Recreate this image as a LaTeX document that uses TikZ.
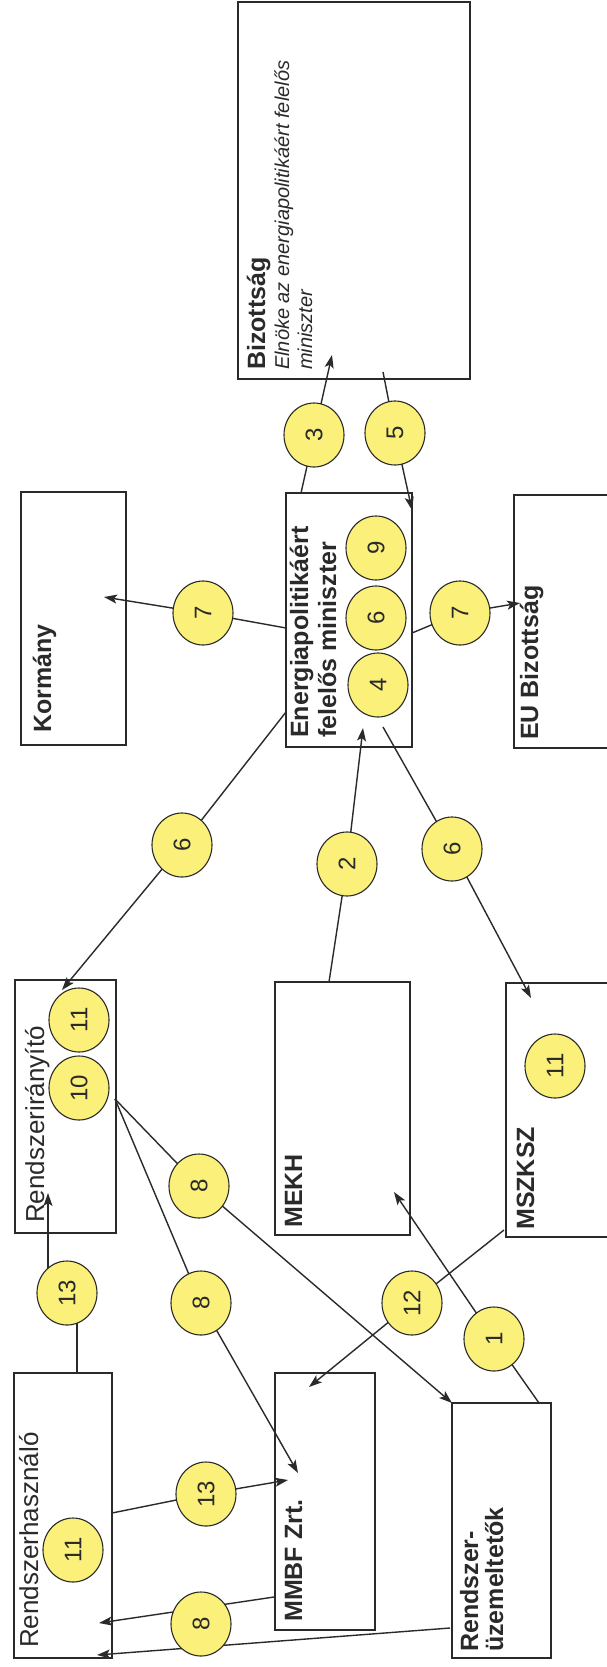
\documentclass[tikz,border=0pt]{standalone}
\usepackage{fontspec}
\setmainfont{Liberation Sans}
\usetikzlibrary{shapes.geometric,arrows.meta,backgrounds}
\definecolor{ink}{HTML}{2A2A2A}
\definecolor{dot}{RGB}{250,240,122}
\begin{document}
\begin{tikzpicture}[x=1pt,y=-1pt,
  box/.style={draw=ink, line width=1.3pt, inner sep=0pt, outer sep=0pt},
  lbl/.style={rotate=90, anchor=base west, inner sep=0pt, text=ink},
  bold/.style={font=\fontsize{25}{25}\selectfont\bfseries},
  reg/.style={font=\fontsize{26}{26}\selectfont},
  ital/.style={font=\fontsize{20}{20}\selectfont\itshape},
  num/.style={ellipse, draw=ink, line width=1.1pt, fill=dot, rotate=90,
    minimum width=64pt, minimum height=60pt, inner sep=0pt,
    font=\fontsize{24}{24}\selectfont, text=ink},
  conn/.style={draw=ink, line width=1.4pt},
  arr/.style={conn, -{Stealth[length=13pt,width=9pt,inset=3pt]}}
]
\useasboundingbox (0,0) rectangle (606,1667);

% boxes
\node[box, minimum width=232pt, minimum height=377pt] (biz) at (354,190.5) {};
\node[box, minimum width=105pt, minimum height=253pt] (korm) at (73.5,618.5) {};
\node[box, minimum width=126pt, minimum height=254pt] (ener) at (349,620) {};
\node[box, minimum width=100pt, minimum height=253pt] (eu) at (564,621.5) {};
\node[box, minimum width=101pt, minimum height=253pt] (rir) at (65.5,1106.5) {};
\node[box, minimum width=135pt, minimum height=253pt] (mekh) at (342.5,1108.5) {};
\node[box, minimum width=104pt, minimum height=254pt] (mszksz) at (558,1110) {};
\node[box, minimum width=98pt, minimum height=285pt] (rhasz) at (63,1515.5) {};
\node[box, minimum width=100pt, minimum height=257pt] (mmbf) at (325,1501.5) {};
\node[box, minimum width=99pt, minimum height=255pt] (ruz) at (501.5,1530.5) {};

% labels
\node[lbl,bold] (tbiz) at (265,370) {Bizottság};
\node[lbl,ital] (tbiz2) at (289,370) {Elnöke az energiapolitikáért felelős};
\node[lbl,ital] (tbiz3) at (312,370) {miniszter};
\node[lbl,bold] (tkorm) at (51,733) {Kormány};
\node[lbl,bold] (tener1) at (308,738) {Energiapolitikáért};
\node[lbl,bold] (tener2) at (336,738) {felelős miniszter};
\node[lbl,bold] (teu) at (538,740) {EU Bizottság};
\node[lbl,reg] (trir) at (44,1223) {Rendszerirányító};
\node[lbl,bold] (tmekh) at (302,1228) {MEKH};
\node[lbl,bold] (tmszksz) at (534,1230) {MSZKSZ};
\node[lbl,reg] (trhasz) at (38,1648) {Rendszerhasználó};
\node[lbl,bold] (tmmbf) at (302,1622) {MMBF Zrt.};
\node[lbl,bold] (truz1) at (478,1652) {Rendszer-};
\node[lbl,bold] (truz2) at (503,1652) {üzemeltetők};

% circles
\node[num] (n3) at (314,435) {3};
\node[num] (n5) at (395,433) {5};
\node[num] (n7a) at (203,613) {7};
\node[num] (n7b) at (460,613) {7};
\node[num] (n9) at (376,548) {9};
\node[num] (n6b) at (376,618) {6};
\node[num] (n4) at (378,685) {4};
\node[num] (n6a) at (182,845) {6};
\node[num] (n2) at (347,864) {2};
\node[num] (n6c) at (452,849) {6};
\node[num] (n11a) at (79,1020) {11};
\node[num] (n10) at (79,1088) {10};
\node[num] (n11b) at (555,1066) {11};
\node[num] (n8a) at (199,1186) {8};
\node[num] (n13a) at (67,1293) {13};
\node[num] (n8b) at (201,1303) {8};
\node[num] (n12) at (412,1303) {12};
\node[num] (n1) at (494,1339) {1};
\node[num] (n13b) at (206,1494) {13};
\node[num] (n11c) at (73,1550) {11};
\node[num] (n8c) at (201,1624) {8};

% connector ends
\coordinate (s3) at (301,493);   \coordinate (t3) at (332,355);
\coordinate (s5) at (383,372);   \coordinate (t5) at (412,510);
\coordinate (s7a) at (286,628);  \coordinate (t7a) at (104,597);
\coordinate (s7b) at (412,633);  \coordinate (t7b) at (520,603);
\coordinate (s6a) at (286,712);  \coordinate (t6a) at (62,990);
\coordinate (s2) at (329,982);   \coordinate (t2) at (363,728);
\coordinate (s6c) at (383,727);  \coordinate (t6c) at (531,998);
\coordinate (s13a) at (77,1373); \coordinate (t13a) at (48,1193);
\coordinate (s8) at (115,1099);
\coordinate (t8a) at (452,1403); \coordinate (t8b) at (298,1473);
\coordinate (s12) at (504,1230); \coordinate (t12) at (309,1387);
\coordinate (s1) at (539,1403);  \coordinate (t1) at (394,1192);
\coordinate (s13b) at (112,1513);\coordinate (t13b) at (288,1480);
\coordinate (s8c) at (274,1597); \coordinate (t8c) at (99,1623);
\coordinate (s8d) at (450,1628); \coordinate (t8d) at (97,1655);

\begin{scope}[on background layer]
\fill[white] (0,0) rectangle (606,1667);
\draw[arr] (s3) -- (n3.center) -- (t3);
\draw[arr] (s5) -- (n5.center) -- (t5);
\draw[arr] (s7a) -- (n7a.center) -- (t7a);
\draw[arr] (s7b) -- (n7b.center) -- (t7b);
\draw[arr] (s6a) -- (n6a.center) -- (t6a);
\draw[arr] (s2) -- (n2.center) -- (t2);
\draw[arr] (s6c) -- (n6c.center) -- (t6c);
\draw[arr] (s13a) |- (n13a.center) -| (t13a);
\draw[arr] (s8) -- (n8a.center) -- (t8a);
\draw[arr] (s8) -- (n8b.center) -- (t8b);
\draw[arr] (s12) -- (n12.center) -- (t12);
\draw[arr] (s1) -- (n1.center) -- (t1);
\draw[arr] (s13b) -- (n13b.center) -- (t13b);
\draw[arr] (s8c) -- (t8c);
\draw[arr] (s8d) -- (t8d);
\end{scope}
\end{tikzpicture}
\end{document}
